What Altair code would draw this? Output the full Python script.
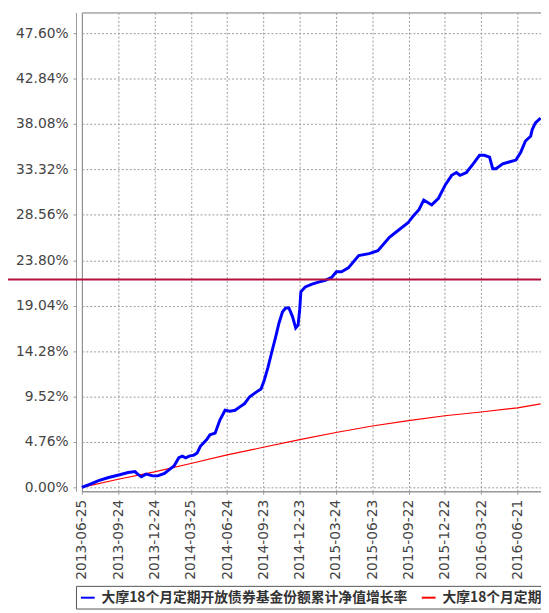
import altair as alt
import pandas as pd

series_names = [
    "大摩18个月定期开放债券基金份额累计净值增长率",
    "大摩18个月定期开放债券基金业绩比较基准收益率",
]

fund_dates = [
    "2013-06-25", "2013-07-16", "2013-08-06", "2013-08-31", "2013-09-23", "2013-10-19",
    "2013-11-05", "2013-11-12", "2013-11-21", "2013-12-03", "2013-12-20", "2014-01-01",
    "2014-01-18", "2014-01-30", "2014-02-11", "2014-02-23", "2014-03-04", "2014-03-12",
    "2014-03-21", "2014-04-02", "2014-04-10", "2014-04-18", "2014-05-04", "2014-05-12",
    "2014-05-25", "2014-06-06", "2014-06-19", "2014-07-01", "2014-07-14", "2014-07-26",
    "2014-08-07", "2014-08-19", "2014-09-05", "2014-09-17", "2014-09-25", "2014-10-04",
    "2014-10-16", "2014-10-24", "2014-11-01", "2014-11-10", "2014-11-18", "2014-11-26",
    "2014-12-05", "2014-12-13", "2014-12-19", "2014-12-23", "2014-12-26", "2015-01-06",
    "2015-01-23", "2015-02-08", "2015-02-25", "2015-03-13", "2015-03-25", "2015-04-07",
    "2015-04-24", "2015-05-20", "2015-06-15", "2015-07-07", "2015-08-05", "2015-08-29",
    "2015-09-20", "2015-10-05", "2015-10-18", "2015-10-30", "2015-11-07", "2015-11-19",
    "2015-12-06", "2015-12-23", "2016-01-08", "2016-01-20", "2016-01-29", "2016-02-14",
    "2016-03-02", "2016-03-18", "2016-03-30", "2016-04-12", "2016-04-20", "2016-04-28",
    "2016-05-15", "2016-05-31", "2016-06-17", "2016-06-29", "2016-07-11", "2016-07-24",
    "2016-07-28", "2016-08-05", "2016-08-18",
]
fund_values = [
    0.00, 0.35, 0.70, 1.03, 1.27, 1.55,
    1.65, 1.38, 1.10, 1.38, 1.20, 1.20,
    1.45, 1.86, 2.24, 3.10, 3.27, 3.10,
    3.27, 3.38, 3.60, 4.30, 5.00, 5.50,
    5.68, 7.05, 8.08, 7.98, 8.08, 8.43,
    8.78, 9.47, 9.98, 10.30, 11.20, 12.50,
    14.50, 15.80, 17.20, 18.40, 18.80, 18.80,
    17.90, 16.70, 17.00, 18.60, 20.50, 21.00,
    21.30, 21.50, 21.70, 22.00, 22.60, 22.60,
    23.00, 24.30, 24.50, 24.80, 26.20, 27.00,
    27.70, 28.50, 29.10, 30.10, 29.90, 29.60,
    30.30, 31.70, 32.70, 33.00, 32.70, 33.00,
    33.90, 34.80, 34.80, 34.60, 33.40, 33.40,
    33.90, 34.10, 34.30, 35.10, 36.30, 36.80,
    37.50, 38.20, 38.70,
]

bench_dates = [
    "2013-06-25", "2013-09-24", "2013-12-24", "2014-03-25", "2014-06-24", "2014-09-23",
    "2014-12-23", "2015-03-24", "2015-06-23", "2015-09-22", "2015-12-22", "2016-03-22",
    "2016-06-21", "2016-08-18",
]
bench_values = [
    0.00, 0.85, 1.62, 2.50, 3.40, 4.20,
    5.00, 5.75, 6.43, 7.00, 7.50, 7.90,
    8.33, 8.75,
]

x_ticks = [
    "2013-06-25", "2013-09-24", "2013-12-24", "2014-03-25", "2014-06-24", "2014-09-23",
    "2014-12-23", "2015-03-24", "2015-06-23", "2015-09-22", "2015-12-22", "2016-03-22",
    "2016-06-21",
]
x_domain = ["2013-06-25", "2016-08-19"]
y_ticks = [0.0, 4.76, 9.52, 14.28, 19.04, 23.80, 28.56, 33.32, 38.08, 42.84, 47.60]
y_domain = [-0.413, 49.77]
ref_line = [21.78]


def dt(s):
    y, m, d = (int(p) for p in s.split("-"))
    return alt.DateTime(year=y, month=m, date=d, utc=True)


fund_df = pd.DataFrame({"date": fund_dates, "value": fund_values, "series": series_names[0]})
bench_df = pd.DataFrame({"date": bench_dates, "value": bench_values, "series": series_names[1]})
ref_df = pd.DataFrame({"value": ref_line})

W, H = 466, 486

x_enc = alt.X(
    "date:T",
    title=None,
    scale=alt.Scale(type="utc", domain=[dt(s) for s in x_domain], nice=False),
    axis=alt.Axis(
        values=[dt(s) for s in x_ticks],
        labelExpr="utcFormat(datum.value, '%Y-%m-%d')",
        labelAngle=270,
        labelOverlap=False,
        labelFlush=False,
    ),
)
y_enc = alt.Y(
    "value:Q",
    title=None,
    scale=alt.Scale(domain=y_domain, nice=False, zero=False),
    axis=alt.Axis(
        values=y_ticks,
        labelExpr="format(datum.value, '.2f') + '%'",
        offset=6,
        labelOverlap=False,
        labelFlush=False,
    ),
)
color_enc = alt.Color(
    "series:N",
    scale=alt.Scale(domain=series_names, range=["#0000ff", "#ff0000"]),
    legend=alt.Legend(
        orient="none",
        legendX=-6,
        legendY=582,
        direction="horizontal",
        title=None,
        symbolType="stroke",
        symbolSize=196,
        symbolStrokeWidth=2,
        labelFont="Noto Sans CJK SC",
        labelFontSize=14,
        labelFontWeight="bold",
        labelColor="#333333",
        labelLimit=800,
        labelOffset=6,
        columnPadding=10,
        padding=4,
        strokeColor="#555555",
        fillColor="#ffffff",
    ),
)

bench = alt.Chart(bench_df).mark_line(strokeWidth=1.2).encode(x=x_enc, y=y_enc, color=color_enc)
fund = alt.Chart(fund_df).mark_line(strokeWidth=3).encode(x=x_enc, y=y_enc, color=color_enc)
rule = alt.Chart(ref_df).mark_rule(color="#b3123c", strokeWidth=2).encode(
    y="value:Q", x=alt.value(-75), x2=alt.value(W)
)

chart = (
    alt.layer(bench, fund, rule)
    .properties(
        width=W,
        height=H,
        autosize=alt.AutoSizeParams(type="none"),
        padding={"left": 75, "top": 0, "right": 0, "bottom": 119},
        background="#ffffff",
    )
    .configure_view(stroke="#777777", strokeWidth=1)
    .configure_axis(
        grid=True,
        gridColor="#999999",
        gridDash=[2, 2],
        gridWidth=1,
        domainColor="#999999",
        tickColor="#999999",
        tickSize=3,
        labelFont="DejaVu Sans",
        labelFontSize=14,
        labelColor="#444444",
        labelPadding=5,
    )
)

chart.save("out.html", embed_options={"renderer": "svg", "actions": False})
